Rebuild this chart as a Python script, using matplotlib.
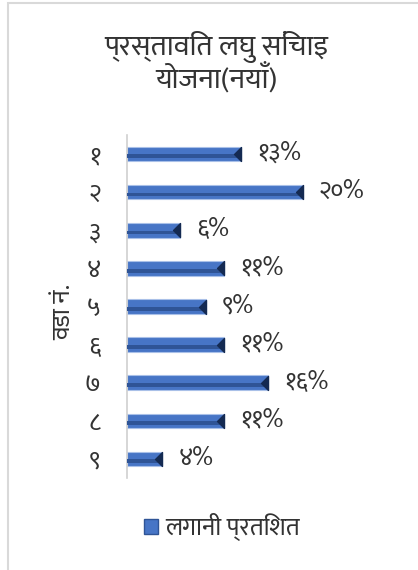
import matplotlib
matplotlib.use("Agg")
import matplotlib.pyplot as plt
from matplotlib.patches import Rectangle, Patch
from matplotlib.path import Path

plt.rcParams['font.family'] = ['Ek Mukta', 'FreeSans', 'DejaVu Sans']

# data
wards = ['१', '२', '३', '४', '५', '६', '७', '८', '९']
pct = [13, 20, 6, 11, 9, 11, 16, 11, 4]
pct_labels = ['१३%', '२०%', '६%', '११%', '९%', '११%', '१६%', '११%', '४%']
title = 'प्रस्तावित लघु सिंचाइ\nयोजना(नयाँ)'
ylabel = 'वडा नं.'
legend_label = 'लगानी प्रतिशत'

W, H = 418, 570
txt = '#333333'
fig = plt.figure(figsize=(W / 100, H / 100), dpi=100)

# chart area border (only left/top visible in the crop)
fig.patches.append(Rectangle((8 / W, -0.2), 1.5, 1.2 - 3 / H, transform=fig.transFigure,
                             fill=False, edgecolor='#d9d9d9', linewidth=1.5))

ax = fig.add_axes([127 / W, 1 - 478 / H, 220 / W, 343 / H])
ypos = list(range(len(wards)))

ax.barh(ypos, pct, height=0.38, color='#4775C6', edgecolor='#a9c0e8', linewidth=0.8, zorder=2)
ax.barh([y + 0.06 for y in ypos], pct, height=0.1, color='#2f5496', linewidth=0, zorder=3)
tri = Path([(0, 1), (-1, 0), (0, -1), (0, 1)], [Path.MOVETO, Path.LINETO, Path.LINETO, Path.CLOSEPOLY])
ax.plot(pct, ypos, linestyle='none', marker=tri, markersize=10, color='#142a52', zorder=4)

for y, v, lab in zip(ypos, pct, pct_labels):
    ax.annotate(lab, (v, y), xytext=(16, 0), textcoords='offset pixels',
                va='center', ha='left', fontsize=18, color=txt)

ax.set_xlim(0, 25)
ax.set_ylim(len(wards) - 0.5, -0.5)
ax.set_yticks(ypos)
ax.set_yticklabels(wards, fontsize=18, color=txt)
ax.tick_params(axis='y', length=0, pad=19)
ax.set_xticks([])
for s in ['top', 'right', 'bottom']:
    ax.spines[s].set_visible(False)
ax.spines['left'].set_color('#d0d0d0')
ax.spines['left'].set_linewidth(1.2)

fig.text(64 / W, 1 - 312 / H, ylabel, rotation=90, ha='center', va='center',
         fontsize=18, color=txt)
fig.text(216 / W, 1 - 63 / H, title, ha='center', va='center', fontsize=21,
         color=txt, linespacing=1.0)

handle = Patch(facecolor='#4775C6', edgecolor='#2f5496', linewidth=1)
fig.legend([handle], [legend_label], loc='center', bbox_to_anchor=(222 / W, 1 - 527 / H),
           frameon=False, fontsize=18, handlelength=0.55, handleheight=0.55,
           handletextpad=0.3, labelcolor=txt)

fig.savefig('out.png', dpi=100)
